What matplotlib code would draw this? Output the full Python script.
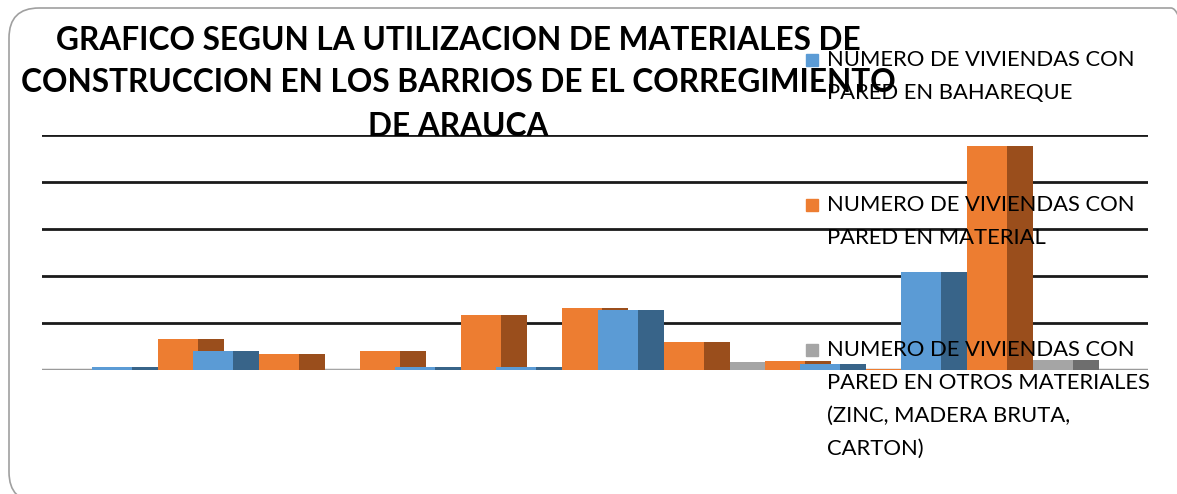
import matplotlib.pyplot as plt
from matplotlib.patches import FancyBboxPatch, Rectangle

# datos (escala arbitraria: 20 por linea de cuadricula)
barrios = ['B1', 'B2', 'B3', 'B4', 'B5', 'B6', 'B7', 'B8', 'B9']
bahareque = [1.3, 8.1, 0.0, 1.3, 1.3, 25.5, 0.0, 2.6, 41.7]
material = [13.2, 6.8, 8.1, 23.4, 26.4, 11.9, 3.8, 0.4, 95.3]
otros = [0.0, 0.4, 0.0, 0.0, 0.0, 3.4, 0.0, 0.0, 4.3]

series = [bahareque, material, otros]
nombres = [['NUMERO DE VIVIENDAS CON', 'PARED EN BAHAREQUE'],
           ['NUMERO DE VIVIENDAS CON', 'PARED EN MATERIAL'],
           ['NUMERO DE VIVIENDAS CON', 'PARED EN OTROS MATERIALES',
            '(ZINC, MADERA BRUTA,', 'CARTON)']]
frente = ['#5B9BD5', '#ED7D31', '#A5A5A5']
lado = ['#386489', '#9A4E1C', '#6E6E6E']

W, H = 1177, 494
fig = plt.figure(figsize=(W / 100, H / 100), dpi=100)

# marco redondeado (en pulgadas)
marco = FancyBboxPatch((0.09, -0.08), 11.92, 4.94, boxstyle='round,pad=0,rounding_size=0.3',
                       transform=fig.dpi_scale_trans, fc='none', ec='#A0A0A0', lw=1.2, zorder=30)
fig.patches.append(marco)

ax = fig.add_axes([42 / W, (H - 370) / H, (1148 - 42) / W, (370 - 135) / H])
ax.set_facecolor('none')

paso = 1.0
desp = 66 / 101.1
ancho_f = 40 / 101.1
ancho_l = 26 / 101.1

z = 3
for i in range(len(barrios)):
    for j, vals in enumerate(series):
        x = i * paso + j * desp
        ax.bar(x, vals[i], width=ancho_f, align='edge', color=frente[j], zorder=z)
        ax.bar(x + ancho_f, vals[i], width=ancho_l, align='edge', color=lado[j], zorder=z)
        z += 1

ax.set_xlim((42 - 92) / 101.1, (1148 - 92) / 101.1)
ax.set_ylim(0, 100)
ax.set_yticks([20, 40, 60, 80, 100])
ax.yaxis.grid(True, color='#1a1a1a', lw=2)
ax.set_axisbelow(True)
ax.axhline(0, color='#9a9a9a', lw=2.5, zorder=2)
for s in ax.spines.values():
    s.set_visible(False)
ax.tick_params(left=False, bottom=False, labelleft=False, labelbottom=False)

# titulo
titulo = ['GRAFICO SEGUN LA UTILIZACION DE MATERIALES DE',
          'CONSTRUCCION EN LOS BARRIOS DE EL CORREGIMIENTO',
          'DE ARAUCA']
for t, y in zip(titulo, [40, 82, 127]):
    fig.text(458 / W, 1 - y / H, t, ha='center', va='center', fontsize=22.8,
             fontweight='bold', family='Lato', color='black', zorder=20)

# leyenda
inicio = [60, 205, 350]
for j in range(3):
    y0 = inicio[j]
    fig.patches.append(Rectangle((806 / W, 1 - (y0 + 6) / H), 12 / W, 12 / H,
                                 transform=fig.transFigure, color=frente[j], zorder=15))
    for k, linea in enumerate(nombres[j]):
        fig.text(827 / W, 1 - (y0 + 33 * k) / H, linea, ha='left', va='center',
                 fontsize=15.8, family='Lato', color='black', zorder=20)

fig.savefig('out.png', dpi=100)
